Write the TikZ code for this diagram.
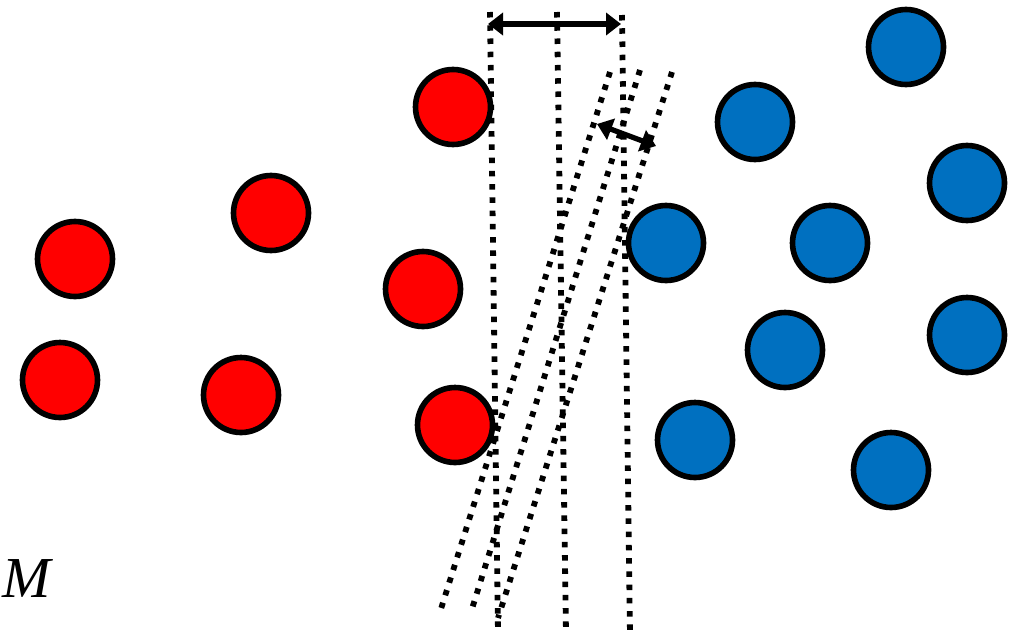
\documentclass[tikz,border=0pt]{standalone}
\usepackage{fontspec}
\setmainfont{Liberation Serif}
\usetikzlibrary{arrows.meta}
\definecolor{cred}{HTML}{FF0000}
\definecolor{cblue}{HTML}{0070C0}
\begin{document}
\begin{tikzpicture}[x=0.02cm,y=-0.02cm,
  pt/.style={circle,draw=black,line width=3.2pt,minimum size=1.5cm,inner sep=0pt},
  redpt/.style={pt,fill=cred},
  bluept/.style={pt,fill=cblue},
  dotline/.style={line width=3.3pt,dash pattern=on 0.11cm off 0.155cm},
  measure/.style={line width=3pt,{Triangle[length=0.3cm,width=0.44cm]}-{Triangle[length=0.3cm,width=0.44cm]}}]
\useasboundingbox (0,0) rectangle (1026,639);
% red points
\node[redpt] (r1) at (75,259) {};
\node[redpt] (r2) at (271,213) {};
\node[redpt] (r3) at (60,380) {};
\node[redpt] (r4) at (241,395) {};
\node[redpt] (r5) at (453,107) {};
\node[redpt] (r6) at (423,289) {};
\node[redpt] (r7) at (455,425) {};
% blue points
\node[bluept] (b1) at (906,47) {};
\node[bluept] (b2) at (755,122) {};
\node[bluept] (b3) at (967,183) {};
\node[bluept] (b4) at (666,243) {};
\node[bluept] (b5) at (830,243) {};
\node[bluept] (b6) at (785,350) {};
\node[bluept] (b7) at (967,335) {};
\node[bluept] (b8) at (695,440) {};
\node[bluept] (b9) at (891,470) {};
% vertical margin lines
\coordinate (v1t) at (490,12); \coordinate (v1b) at (498,634);
\coordinate (v2t) at (557,12); \coordinate (v2b) at (566,634);
\coordinate (v3t) at (622,15); \coordinate (v3b) at (630,636);
\draw[dotline] (v1t) -- (v1b);
\draw[dotline] (v2t) -- (v2b);
\draw[dotline] (v3t) -- (v3b);
% slanted margin lines
\coordinate (s1t) at (610,72); \coordinate (s1b) at (440,612);
\coordinate (s2t) at (640,70); \coordinate (s2b) at (471,612);
\coordinate (s3t) at (672,72); \coordinate (s3b) at (498,618);
\draw[dotline] (s1t) -- (s1b);
\draw[dotline] (s2t) -- (s2b);
\draw[dotline] (s3t) -- (s3b);
% margin arrows
\coordinate (a1) at (488,24); \coordinate (a2) at (621,24);
\draw[measure] (a1) -- (a2);
\coordinate (c1) at (597,124); \coordinate (c2) at (656,146);
\draw[measure] (c1) -- (c2);
% label
\node[font=\fontsize{33}{36}\selectfont\itshape,anchor=base west,inner sep=0pt] (m) at (2,597) {M};
\end{tikzpicture}
\end{document}
